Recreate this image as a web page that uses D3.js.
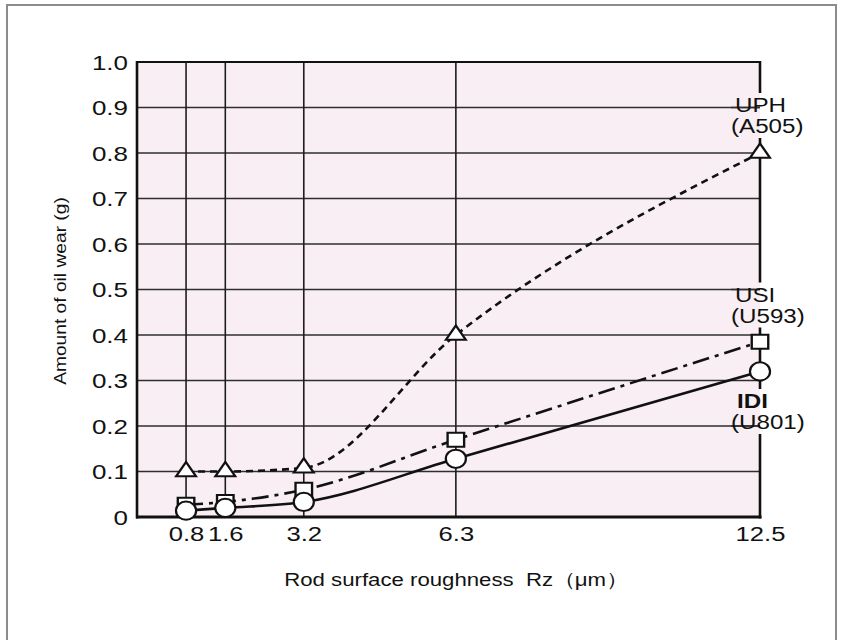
<!DOCTYPE html>
<html>
<head>
<meta charset="utf-8">
<script src="https://cdn.jsdelivr.net/npm/d3@7/dist/d3.min.js"></script>
<style>
  html, body { margin: 0; padding: 0; background: #ffffff; }
  svg { display: block; }
  text { font-family: "Liberation Sans", Arial, Helvetica, sans-serif; fill: #111; white-space: pre; }
</style>
</head>
<body>
<svg id="chart" width="843" height="640"></svg>
<script>
// ---- data ----
const categories = [0.8, 1.6, 3.2, 6.3, 12.5];
const xTickLabels = ["0.8", "1.6", "3.2", "6.3", "12.5"];
const yTickValues = [0, 0.1, 0.2, 0.3, 0.4, 0.5, 0.6, 0.7, 0.8, 0.9, 1.0];
const yTickLabels = ["0", "0.1", "0.2", "0.3", "0.4", "0.5", "0.6", "0.7", "0.8", "0.9", "1.0"];
const uphValues = [0.10, 0.10, 0.108, 0.40, 0.80];
const usiValues = [0.027, 0.033, 0.06, 0.17, 0.385];
const idiValues = [0.014, 0.02, 0.033, 0.128, 0.32];
const seriesNames = ["UPH", "USI", "IDI"];
const seriesCodes = ["(A505)", "(U593)", "(U801)"];
const labelAnchors = [0.9, 0.5, 0.2];
const xTitle = "Rod surface roughness  Rz（μm）";
const yTitle = "Amount of oil wear (g)";

// ---- layout ----
const svg = d3.select("#chart");
const L = 137, R = 760, T = 62, B = 517;
const x = d3.scaleLinear().domain([-0.2, 12.5]).range([L, R]);
const y = d3.scaleLinear().domain([0, 1]).range([B, T]);
const ink = "#111";

// label placement: which text line the leader line points at, and baseline offset
const labelLine = [0, 0, 1];
const labelDy = [4.5, 12, 4];

// outer frame
svg.append("rect").attr("x", 7).attr("y", 5).attr("width", 829).attr("height", 680)
  .attr("fill", "none").attr("stroke", "#8c8c8c").attr("stroke-width", 2);

// plot background
svg.append("rect").attr("x", L).attr("y", T).attr("width", R - L).attr("height", B - T)
  .attr("fill", "#f8eef3");

// horizontal grid
const gridY = yTickValues.filter(v => v > 0 && v < 1);
svg.append("g").selectAll("line").data(gridY).join("line")
  .attr("x1", L).attr("x2", R).attr("y1", d => y(d)).attr("y2", d => y(d))
  .attr("stroke", "#2e2e2e").attr("stroke-width", 1.5);

// vertical grid
const gridX = categories.filter(v => v < 12.5);
svg.append("g").selectAll("line").data(gridX).join("line")
  .attr("x1", d => x(d)).attr("x2", d => x(d)).attr("y1", T).attr("y2", B)
  .attr("stroke", "#1e1e1e").attr("stroke-width", 1.6);

// leader lines from plot edge to label text
svg.append("g").selectAll("line").data(labelAnchors).join("line")
  .attr("x1", R).attr("x2", R - 29).attr("y1", d => y(d)).attr("y2", d => y(d))
  .attr("stroke", "#2e2e2e").attr("stroke-width", 1.5);

// label texts on the right
const lab = svg.append("g");
const labelBoxes = [];
labelAnchors.forEach((v, i) => {
  const b0 = y(v) + labelDy[i] - labelLine[i] * 22;
  const g = lab.append("g");
  g.append("text").attr("transform", `translate(${R - 25 + (i === 2 ? 2 : 0)},${b0}) scale(1.15,1)`)
    .attr("font-size", 21).attr("font-weight", i === 2 ? "bold" : "normal")
    .text(seriesNames[i]);
  g.append("text").attr("transform", `translate(${R - 29},${b0 + 21}) scale(1.15,1)`)
    .attr("font-size", 21).text(seriesCodes[i]);
  labelBoxes.push([b0 - 19, b0 + 26]);
});

// frame: left, bottom, top
svg.append("line").attr("x1", L).attr("x2", L).attr("y1", T - 1).attr("y2", B + 1.5)
  .attr("stroke", ink).attr("stroke-width", 2.6);
svg.append("line").attr("x1", L - 1).attr("x2", R + 1.5).attr("y1", B).attr("y2", B)
  .attr("stroke", ink).attr("stroke-width", 3);
svg.append("line").attr("x1", L).attr("x2", R + 1).attr("y1", T).attr("y2", T)
  .attr("stroke", ink).attr("stroke-width", 2.2);

// right edge with gaps around labels
const gaps = labelBoxes.slice().sort((a, b) => a[0] - b[0]);
const segs = [];
let start = T - 1;
gaps.forEach(g => { segs.push([start, g[0]]); start = g[1]; });
segs.push([start, B + 1.5]);
svg.append("g").selectAll("line").data(segs).join("line")
  .attr("x1", R).attr("x2", R).attr("y1", d => d[0]).attr("y2", d => d[1])
  .attr("stroke", ink).attr("stroke-width", 2.6);

// y axis tick labels
const yAxis = svg.append("g").attr("transform", `translate(${L},0)`)
  .call(d3.axisLeft(y).tickValues(yTickValues).tickFormat((d, i) => yTickLabels[i])
    .tickSize(0).tickPadding(9 / 1.3));
yAxis.select(".domain").remove();
yAxis.selectAll("text").attr("font-size", 20).attr("font-family", null)
  .attr("fill", ink).attr("transform", "scale(1.3,1)").attr("dy", "0.36em");

// x axis tick labels
const xAxis = svg.append("g").attr("transform", `translate(0,${B})`)
  .call(d3.axisBottom(x).tickValues(categories).tickFormat((d, i) => xTickLabels[i])
    .tickSize(0).tickPadding(9));
xAxis.select(".domain").remove();
xAxis.selectAll("text").attr("font-size", 21).attr("font-family", null)
  .attr("fill", ink).attr("transform", "scale(1.22,1)");

// axis titles
svg.append("text").attr("text-anchor", "middle")
  .attr("transform", `translate(456,586) scale(1.2,1)`)
  .attr("font-size", 18.5).text(xTitle);
svg.append("text").attr("text-anchor", "middle")
  .attr("transform", `translate(66,291) rotate(-90) scale(1.2,1)`)
  .attr("font-size", 16).text(yTitle);

// ---- series lines ----
const line = d3.line().x((d, i) => x(categories[i])).y(d => y(d)).curve(d3.curveMonotoneX);
const series = [
  { vals: uphValues, dash: "7,5" },
  { vals: usiValues, dash: "17,6,4,6" },
  { vals: idiValues, dash: null }
];
series.forEach(s => {
  svg.append("path").attr("d", line(s.vals)).attr("fill", "none")
    .attr("stroke", ink).attr("stroke-width", 2.6)
    .attr("stroke-dasharray", s.dash);
});

// ---- markers ----
const symTri = d3.symbol().type(d3.symbolTriangle).size(118)();
const symSq = d3.symbol().type(d3.symbolSquare).size(196)();
const symCirc = d3.symbol().type(d3.symbolCircle).size(262)();
[[uphValues, symTri, 1.2], [usiValues, symSq, 1.18], [idiValues, symCirc, 1.1]].forEach(([vals, sym, sx]) => {
  svg.append("g").selectAll("path").data(vals).join("path")
    .attr("d", sym)
    .attr("transform", (d, i) => `translate(${x(categories[i])},${y(d)}) scale(${sx},1)`)
    .attr("fill", "#fff").attr("stroke", ink).attr("stroke-width", 2);
});
</script>
</body>
</html>
